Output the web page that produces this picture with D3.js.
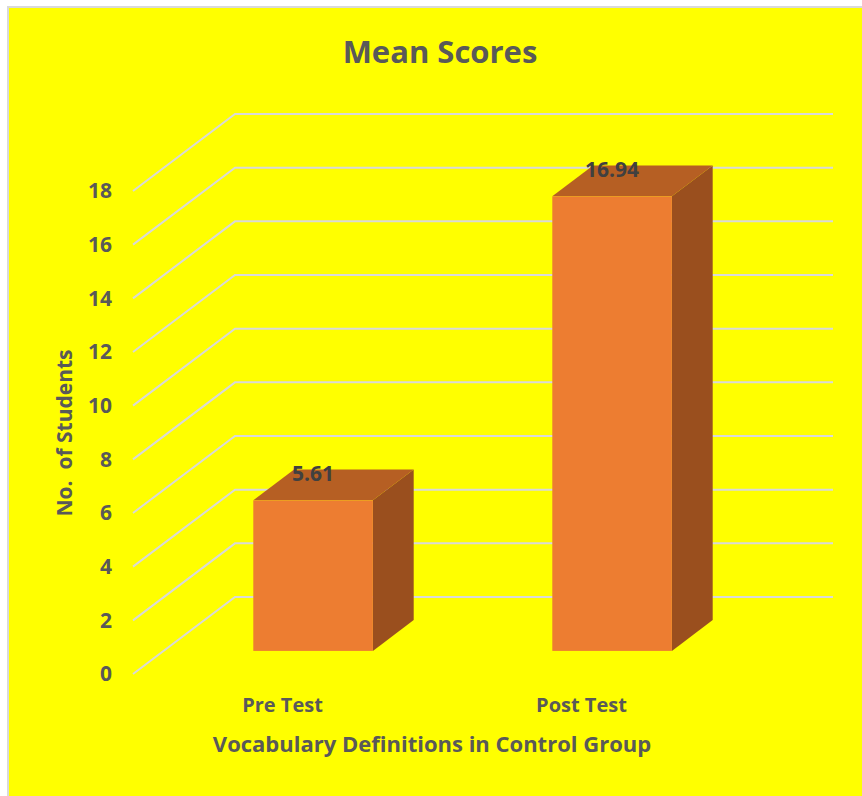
<!DOCTYPE html>
<html>
<head>
<meta charset="utf-8">
<script src="https://cdn.jsdelivr.net/npm/d3@7"></script>
<style>
  body { margin: 0; background: #fff; }
  text { font-family: "Open Sans", sans-serif; font-weight: bold; }
</style>
</head>
<body>
<div id="chart-area"></div>
<script>
// chart data
var categories = ["Pre Test", "Post Test"];
var scores = [5.61, 16.94];
var yTicks = [0, 2, 4, 6, 8, 10, 12, 14, 16, 18];

var width = 862, height = 796;
// 3d depth offset of the floor / side wall
var depth = { dx: 102, dy: -77 };
var barDepth = { start: 0.3, end: 0.7 };

var svg = d3.select("#chart-area")
    .append("svg")
        .attr("width", width)
        .attr("height", height);

// background + border
svg.append("rect")
    .attr("x", 8).attr("y", 7)
    .attr("width", width + 10).attr("height", height + 10)
    .attr("fill", "#FFFF00")
    .attr("stroke", "#D9D9D9")
    .attr("stroke-width", 2);

var y = d3.scaleLinear()
    .domain([0, 18])
    .range([674, 191]);

var x = d3.scaleBand()
    .domain(categories)
    .range([133, 833 - depth.dx]);

// gridlines: side wall diagonal + back wall
svg.append("g").selectAll("polyline")
    .data(yTicks)
    .join("polyline")
        .attr("points", d => [
            [133, y(d)],
            [133 + depth.dx, y(d) + depth.dy],
            [833, y(d) + depth.dy]
        ].join(" "))
        .attr("fill", "none")
        .attr("stroke", "#D9D9D9")
        .attr("stroke-width", 2);

// y tick labels
svg.append("g").selectAll("text")
    .data(yTicks)
    .join("text")
        .attr("x", 112)
        .attr("y", d => y(d))
        .attr("dy", "0.35em")
        .attr("text-anchor", "end")
        .attr("font-size", 21)
        .attr("fill", "#595959")
        .text(d => d);

// bars
var bars = categories.map((c, i) => {
    var center = x(c) + x.bandwidth() / 2;
    var w = x.step() * 0.4;
    var ox = depth.dx * barDepth.start, oy = depth.dy * barDepth.start;
    var bx = depth.dx * (barDepth.end - barDepth.start),
        by = depth.dy * (barDepth.end - barDepth.start);
    var x0 = center - w / 2 + ox, x1 = x0 + w;
    var yb = y(0) + oy, yt = y(scores[i]) + oy;
    return { c: c, v: scores[i], x0: x0, x1: x1, yb: yb, yt: yt, bx: bx, by: by };
});

var bar = svg.append("g").selectAll("g")
    .data(bars)
    .join("g");

// side face
bar.append("polygon")
    .attr("points", d => [
        [d.x1, d.yt], [d.x1 + d.bx, d.yt + d.by],
        [d.x1 + d.bx, d.yb + d.by], [d.x1, d.yb]
    ].join(" "))
    .attr("fill", "#9A4F1E");

// top face
bar.append("polygon")
    .attr("points", d => [
        [d.x0, d.yt], [d.x0 + d.bx, d.yt + d.by],
        [d.x1 + d.bx, d.yt + d.by], [d.x1, d.yt]
    ].join(" "))
    .attr("fill", "#B65F23");

// front face
bar.append("rect")
    .attr("x", d => d.x0)
    .attr("y", d => d.yt)
    .attr("width", d => d.x1 - d.x0)
    .attr("height", d => d.yb - d.yt)
    .attr("fill", "#ED7D31");

// data labels
bar.append("text")
    .attr("x", d => (d.x0 + d.x1) / 2)
    .attr("y", d => d.yt - 19)
    .attr("text-anchor", "middle")
    .attr("font-size", 21)
    .attr("fill", "#404040")
    .text(d => d.v);

// category labels
svg.append("g").selectAll("text")
    .data(categories)
    .join("text")
        .attr("x", d => x(d) + x.bandwidth() / 2)
        .attr("y", 712)
        .attr("text-anchor", "middle")
        .attr("font-size", 20)
        .attr("fill", "#595959")
        .text(d => d);

// title
svg.append("text")
    .attr("x", 440)
    .attr("y", 63)
    .attr("text-anchor", "middle")
    .attr("font-size", 31)
    .attr("fill", "#595959")
    .text("Mean Scores");

// axis titles
svg.append("text")
    .attr("x", 432)
    .attr("y", 752)
    .attr("text-anchor", "middle")
    .attr("font-size", 22)
    .attr("fill", "#595959")
    .text("Vocabulary Definitions in Control Group");

svg.append("text")
    .attr("transform", "translate(72,433) rotate(-90)")
    .attr("text-anchor", "middle")
    .attr("font-size", 21)
    .attr("fill", "#595959")
    .style("white-space", "pre")
    .text("No.  of Students");
</script>
</body>
</html>
